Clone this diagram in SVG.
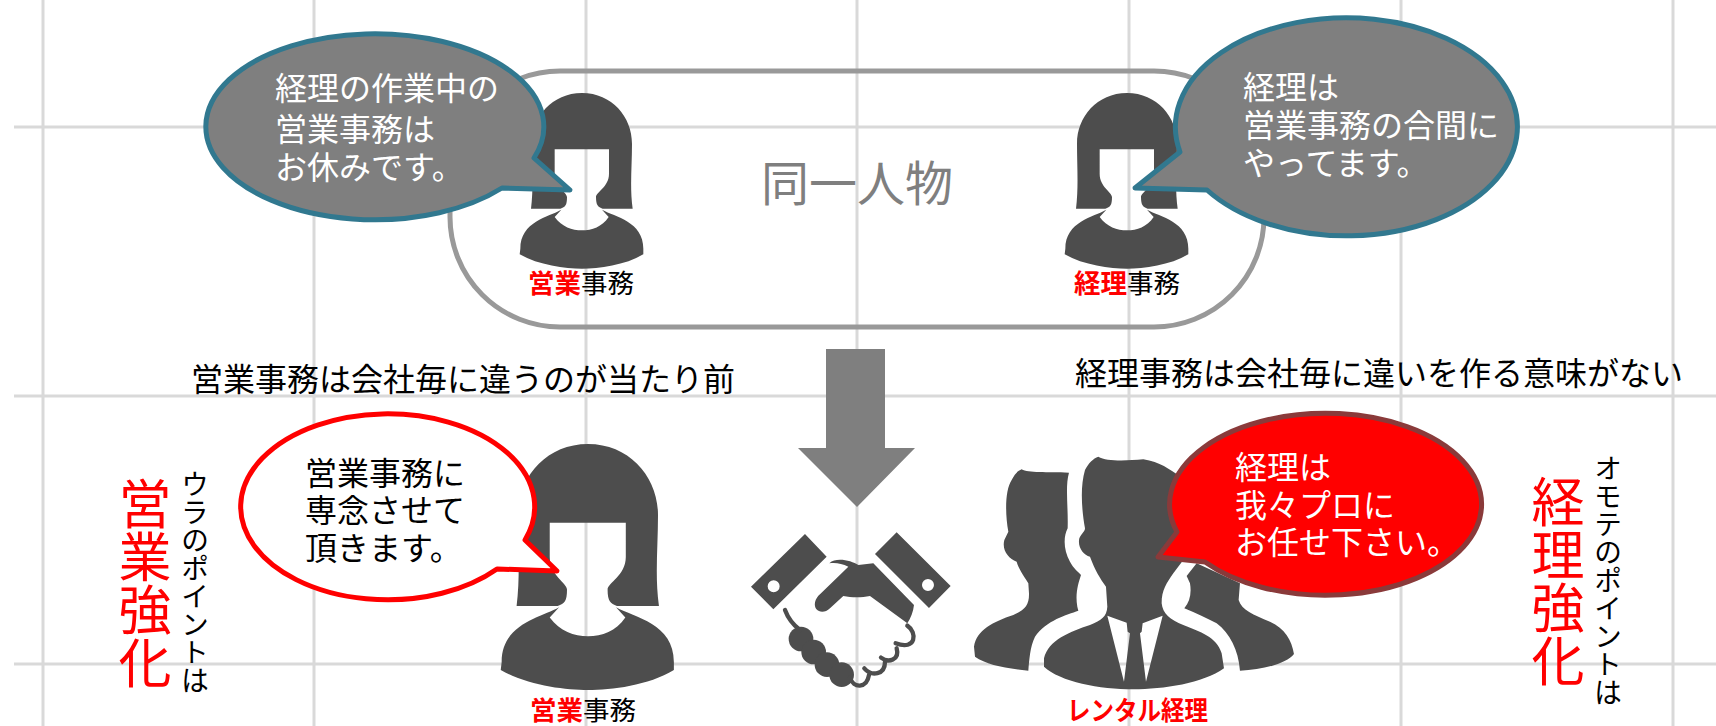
<svg xmlns="http://www.w3.org/2000/svg" width="1716" height="726" viewBox="0 0 1716 726">
<style>
text{font-family:"Noto Sans CJK JP","Liberation Sans",sans-serif}
.g{stroke:#d9d9d9;stroke-width:3;fill:none}
.i{fill:#4d4d4d}
.b{font-size:32px}
.w{fill:#fff}
.k{fill:#000}
.r{fill:#f00}
.l{font-size:26.5px;font-weight:700}
.h{font-size:32px}
.v{writing-mode:vertical-rl}
.vs{font-size:28px}
.vb{font-size:53px}
</style>
<defs>
<path id="woman" class="i" d="M0,0C-90,0-150,72-150,152C-150,222-145,282-153,347L-65,347C-50,342-45,337-45,312C-45,297-82,282-82,242L-82,169L81,169L81,242C81,282,42,297,42,312C42,337,48,342,62,347L152,347C143,282,150,222,150,152C150,72,90,0,0,0ZM-62,350C-100,372-185,385-185,467L-187,484C-130,517-50,527,0,527C50,527,130,517,184,484L184,467C184,385,100,372,60,350L80,372C60,402,30,412,0,412C-30,412-60,402-82,372Z"/>
</defs>
<g id="grid">
<path class="g" d="M43,0V726M314,0V726M586,0V726M857,0V726M1129,0V726M1401,0V726M1673,0V726M14,127H1716M14,396H1716M14,664H1716"/>
</g>
<g id="same-person-frame"><rect x="450" y="71" width="814" height="256" rx="110" fill="none" stroke="#999" stroke-width="5"/></g>
<g id="person-sales-top"><use href="#woman" transform="translate(582,93) scale(.3333)"/></g>
<g id="person-accounting-top"><use href="#woman" transform="translate(1127,93) scale(.3333)"/></g>
<g id="arrow"><path fill="#7f7f7f" d="M826,349H885V448H915L857,507L798,448H826Z"/></g>
<g id="handshake" transform="translate(745,525) scale(.3333)">
<path class="i" fill-rule="evenodd" d="M180,27L245,95L85,253L18,185ZM104,184A18,18 0 1 0 68,184A18,18 0 1 0 104,184Z"/>
<path class="i" fill-rule="evenodd" d="M455,22L617,183L552,249L390,87ZM567,180A18,18 0 1 0 531,180A18,18 0 1 0 567,180Z"/>
<path class="i" d="M253,115C275,95,320,108,340,120L385,115L507,240C505,260,497,280,487,295L375,213C350,218,320,218,295,213L255,250C235,270,205,260,210,232C212,222,220,212,225,208L310,125C290,115,270,112,253,115Z"/>
<g class="i"><circle cx="168" cy="342" r="37"/><circle cx="206" cy="381" r="37"/><circle cx="246" cy="419" r="37"/><circle cx="290" cy="449" r="37"/></g>
<path fill="none" stroke="#4d4d4d" stroke-width="13" stroke-linecap="round" d="M120,255C130,282,145,300,165,315M487,302C517,322,515,378,452,355M455,370C465,405,430,415,408,398M420,410C420,450,380,455,358,430M372,450C365,492,325,490,315,458"/>
</g>
<g id="person-rental-accounting" transform="translate(970,450) scale(.3333)">
<path class="i" d="M155,58C175,70,230,65,297,68C285,110,295,170,293,235C280,260,280,300,300,335C310,355,325,365,333,375C325,400,315,430,322,470L325,482C290,495,230,510,195,560C180,590,178,630,175,662C110,655,50,645,15,620L12,590C20,540,70,515,130,495C165,480,178,465,177,430L175,400C160,375,145,355,140,335C115,325,95,300,103,270L115,245C105,190,105,120,125,90C135,70,145,62,155,58Z"/>
<path class="i" d="M650,378L680,340L810,400L806,450C815,480,850,495,900,515C945,535,965,570,972,612C950,640,880,660,810,662C805,600,780,550,740,520C710,505,680,490,643,475C660,455,665,430,660,400Z"/>
<path class="i" fill-rule="evenodd" d="M385,20C410,35,470,32,520,28C570,35,600,60,625,75L640,330L610,370C590,400,575,420,575,460C578,490,600,510,640,525C690,545,740,560,755,610L762,655C700,700,580,718,490,718C390,718,270,695,222,650L222,625C235,570,300,545,360,525C395,510,410,500,412,470L408,410C390,385,375,360,360,320C340,315,322,290,328,265C335,250,345,245,345,235C335,180,330,110,345,60C355,40,370,25,385,20ZM412,497L470,518L473,545L480,550L462,695ZM578,497L518,520L515,545L510,550L528,695Z"/>
</g>
<g id="person-sales-bottom"><use href="#woman" transform="translate(588,444) scale(.4667)"/></g>
<g id="bubble-top-left">
<path d="M534,158A169,93 0 1 0 502,188L570,190Z" fill="#7f7f7f" stroke="#31788f" stroke-width="5" stroke-linejoin="round"/>
<text class="b w" x="275" y="100">経理の作業中の</text><text class="b w" x="275" y="141">営業事務は</text><text class="b w" x="275" y="179">お休みです。</text>
</g>
<g id="bubble-top-right">
<path d="M1180,152A171,109 0 1 1 1207,190L1135,188Z" fill="#7f7f7f" stroke="#31788f" stroke-width="5" stroke-linejoin="round"/>
<text class="b w" x="1243" y="99">経理は</text><text class="b w" x="1243" y="137">営業事務の合間に</text><text class="b w" x="1243" y="175">やってます。</text>
</g>
<g id="bubble-bottom-left">
<path d="M525,540A147,93 0 1 0 497,569L557,571Z" fill="#fff" stroke="#f00" stroke-width="5" stroke-linejoin="round"/>
<text class="b k" x="305" y="485">営業事務に</text><text class="b k" x="305" y="522">専念させて</text><text class="b k" x="305" y="560">頂きます。</text>
</g>
<g id="bubble-bottom-right">
<path d="M1177,532A156,91 0 1 1 1205,562L1158,557Z" fill="#f00" stroke="#8a3a3a" stroke-width="5" stroke-linejoin="round"/>
<text class="b w" x="1235" y="479">経理は</text><text class="b w" x="1235" y="517">我々プロに</text><text class="b w" x="1235" y="554">お任せ下さい。</text>
</g>
<g id="labels">
<text x="857" y="201" font-size="48" fill="#7f7f7f" text-anchor="middle">同一人物</text>
<text class="l" x="528" y="293"><tspan class="r">営業</tspan><tspan class="k" font-weight="400">事務</tspan></text>
<text class="l" x="1074" y="293"><tspan class="r">経理</tspan><tspan class="k" font-weight="400">事務</tspan></text>
<text class="l" x="530" y="720"><tspan class="r">営業</tspan><tspan class="k" font-weight="400">事務</tspan></text>
<text class="l r" x="1067" y="720" textLength="141" lengthAdjust="spacingAndGlyphs">レンタル経理</text>
<text class="h k" x="191" y="391">営業事務は会社毎に違うのが当たり前</text>
<text class="h k" x="1075" y="385">経理事務は会社毎に違いを作る意味がない</text>
<text class="v vs k" x="195" y="470">ウラのポイントは</text>
<text class="v vb r" x="145" y="477">営業強化</text>
<text class="v vs k" x="1608" y="454">オモテのポイントは</text>
<text class="v vb r" x="1558" y="475">経理強化</text>
</g>
</svg>
